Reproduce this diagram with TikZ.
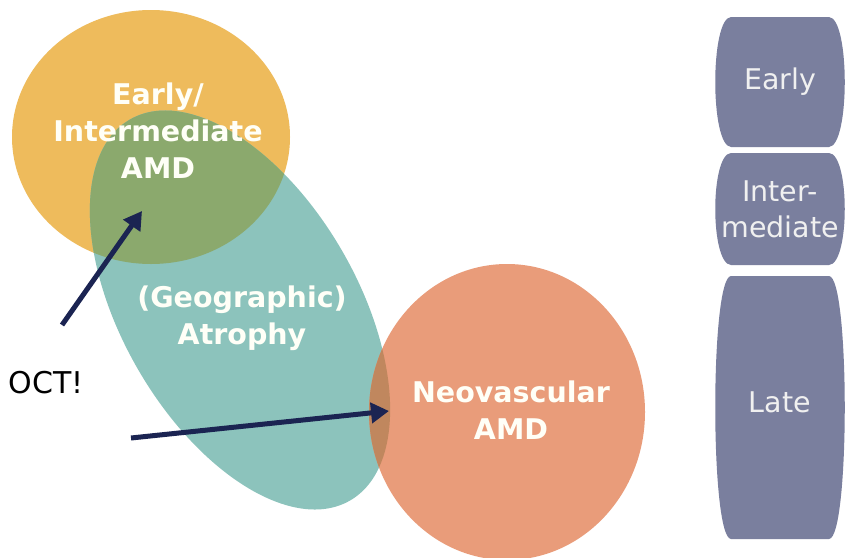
\documentclass[tikz,border=0pt]{standalone}
\usepackage{fontspec}
\setmainfont{DejaVu Sans}
\usetikzlibrary{arrows.meta}

\definecolor{amdorange}{HTML}{EEBB5C}
\definecolor{amdteal}{HTML}{8CC3BC}
\definecolor{amdsalmon}{HTML}{E99C7A}
\definecolor{amdgreen}{HTML}{8BA96D}
\definecolor{amdbrown}{HTML}{C0875E}
\definecolor{stagegray}{HTML}{7A7F9E}
\definecolor{octnavy}{HTML}{1B2452}

\tikzset{
    blobtext/.style={text=white!97!yellow, font=\fontsize{28.5}{37}\selectfont\bfseries, align=center},
    stagetext/.style={text=white!94!black, font=\fontsize{28.5}{36}\selectfont, align=center},
    octarrow/.style={line width=5pt, octnavy, -{Triangle[length=18pt,width=20pt]}}
}

% barrel shaped box, #1 = top, #2 = bottom
\newcommand{\stagebox}[2]{%
    \fill[stagegray] (731,#1) -- (829,#1)
        .. controls (850,#1+1) and (850,#2-1) .. (829,#2) -- (731,#2)
        .. controls (710,#2-1) and (710,#1+1) .. (731,#1) -- cycle;}

\begin{document}
\begin{tikzpicture}[x=1pt, y=-1pt]
    \useasboundingbox (0,0) rectangle (845,557);
    \fill[white] (0,0) rectangle (845,557);

    \def\earlyE{(151,137) ellipse [x radius=139, y radius=127]}
    \def\atroE{(240,310) ellipse [x radius=220, y radius=118]}
    \def\neoE{(507,412) ellipse [x radius=138, y radius=148]}

    % the three blobs
    \fill[amdorange] \earlyE;
    \fill[amdteal, rotate around={-60:(240,310)}] \atroE;
    \fill[amdsalmon] \neoE;

    % overlaps
    \begin{scope}
        \clip \earlyE;
        \fill[amdgreen, rotate around={-60:(240,310)}] \atroE;
    \end{scope}
    \begin{scope}
        \clip \neoE;
        \fill[amdbrown, rotate around={-60:(240,310)}] \atroE;
    \end{scope}

    \node[blobtext] (early) at (158,131) {Early/\\Intermediate\\AMD};
    \node[blobtext] (atrophy) at (242,318) {(Geographic)\\Atrophy};
    \node[blobtext] (neo) at (511,410) {Neovascular\\AMD};

    \node[font=\fontsize{30}{36}\selectfont] (oct) at (46,383) {OCT!};

    \coordinate (octA) at (62,325);
    \coordinate (octB) at (131,438);
    \coordinate (earlyTip) at (142,211);
    \coordinate (neoTip) at (389,411);
    \draw[octarrow] (octA) -- (earlyTip);
    \draw[octarrow] (octB) -- (neoTip);

    % stages on the right
    \stagebox{17}{147}
    \stagebox{153}{265}
    \stagebox{276}{539}
    \node[stagetext] (stEarly) at (780,82) {Early};
    \node[stagetext] (stInter) at (780,209) {Inter-\\mediate};
    \node[stagetext] (stLate) at (780,402) {Late};
\end{tikzpicture}
\end{document}
